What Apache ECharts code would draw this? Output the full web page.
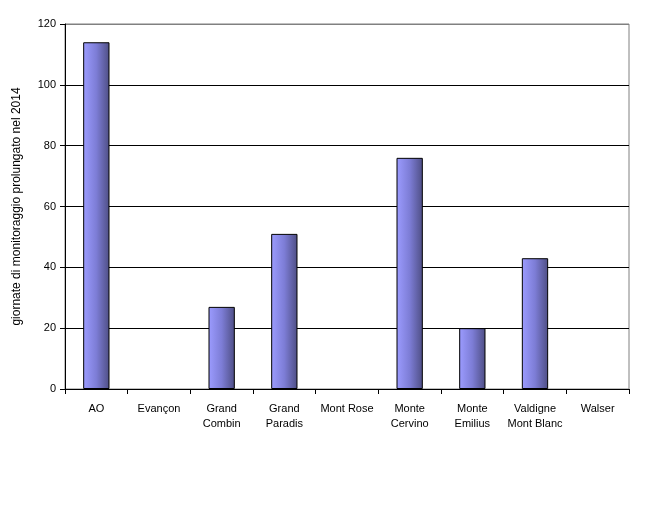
<!DOCTYPE html>
<html>
<head>
<meta charset="utf-8">
<script src="https://cdn.jsdelivr.net/npm/echarts@6/dist/echarts.min.js"></script>
<style>
  html, body { margin: 0; padding: 0; background: #fff; }
  #chart { width: 668px; height: 507px; }
</style>
</head>
<body>
<div id="chart"></div>
<script>
const categories = ['AO', 'Evançon', 'Grand\nCombin', 'Grand\nParadis', 'Mont Rose', 'Monte\nCervino', 'Monte\nEmilius', 'Valdigne\nMont Blanc', 'Walser']
const values = [114, 0, 27, 51, 0, 76, 20, 43, 0]
const yTicks = { min: 0, max: 120, interval: 20 }

const chart = echarts.init(document.getElementById('chart'))

// empty bars should not leave a border line on the axis
const barData = values.map((v) => (v === 0 ? { value: v, itemStyle: { borderWidth: 0 } } : v))

chart.setOption({
  animation: false,
  textStyle: { fontFamily: 'Liberation Sans, Arial, sans-serif' },
  grid: {
    left: 65,
    right: 39,
    top: 24,
    bottom: 118,
    show: true,
    borderColor: '#808080',
    borderWidth: 1
  },
  xAxis: {
    type: 'category',
    data: categories,
    axisLine: { lineStyle: { color: '#000', width: 1 } },
    axisTick: { show: true, length: 5, lineStyle: { color: '#000' } },
    axisLabel: {
      interval: 0,
      color: '#000',
      fontSize: 11,
      lineHeight: 15,
      margin: 12
    }
  },
  yAxis: {
    type: 'value',
    min: yTicks.min,
    max: yTicks.max,
    interval: yTicks.interval,
    name: 'giornate di monitoraggio prolungato nel 2014',
    nameLocation: 'middle',
    nameGap: 42,
    nameTextStyle: { color: '#000', fontSize: 12 },
    axisLine: { show: true, lineStyle: { color: '#000', width: 1 } },
    axisTick: { show: true, length: 5, lineStyle: { color: '#000' } },
    axisLabel: { color: '#000', fontSize: 11, margin: 9 },
    splitLine: {
      lineStyle: {
        color: ['#000', '#000', '#000', '#000', '#000', '#000', '#808080'],
        width: 1
      }
    }
  },
  series: [
    {
      type: 'bar',
      data: barData,
      barWidth: '42%',
      itemStyle: {
        color: new echarts.graphic.LinearGradient(0, 0, 1, 0, [
          { offset: 0, color: '#9c9cff' },
          { offset: 0.5, color: '#7d7dd6' },
          { offset: 1, color: '#4e4e84' }
        ]),
        borderColor: '#000',
        borderWidth: 1
      }
    }
  ]
})
</script>
</body>
</html>
